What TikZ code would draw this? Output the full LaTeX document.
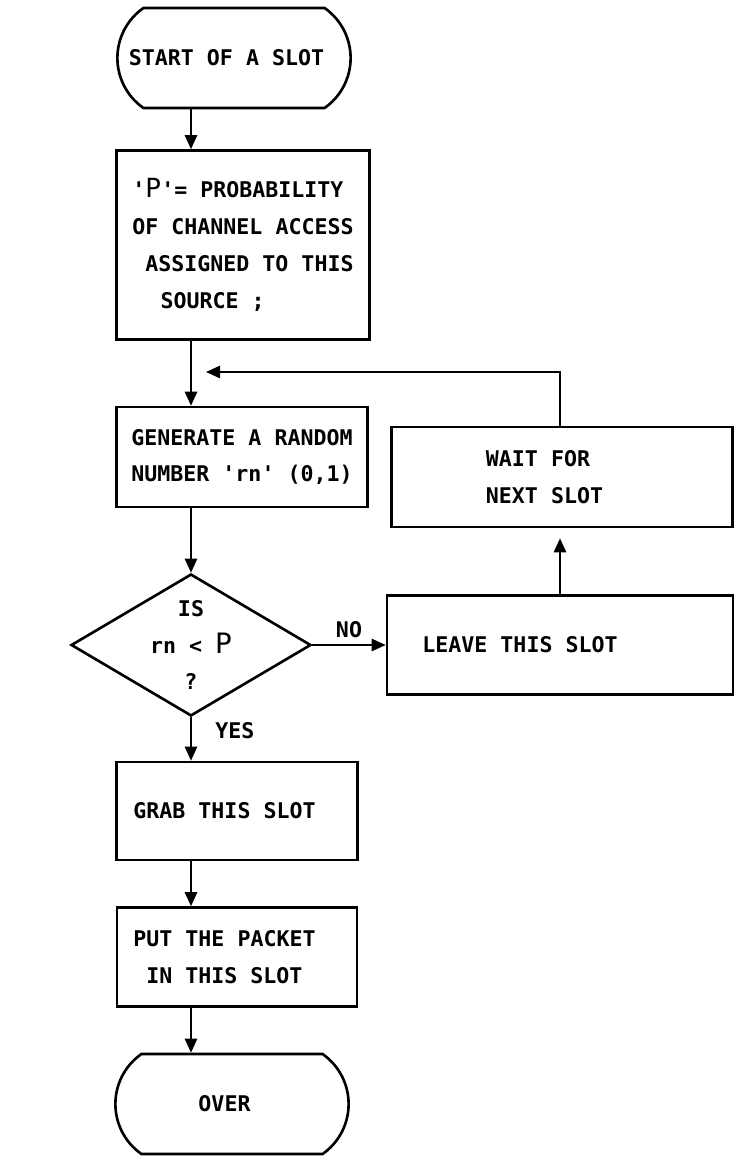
\documentclass[tikz,border=0pt]{standalone}
\usepackage{fontspec}
\newfontfamily\plotterfont{DejaVu Sans Mono}
\usetikzlibrary{shapes.geometric, shapes.misc, arrows.meta, positioning}

\begin{document}
\begin{tikzpicture}[
    x=0.02cm, y=-0.02cm,
    font=\plotterfont\bfseries\fontsize{12.3}{21}\selectfont,
    terminal/.style={rounded rectangle, rounded rectangle arc length=110, draw, line width=1.5pt, minimum width=4.9cm, minimum height=2cm},
    process/.style={rectangle, draw, line width=1.5pt, align=left, inner sep=0pt},
    decision/.style={diamond, draw, line width=1.5pt, aspect=1.7, inner sep=0pt, align=center, minimum width=4.8cm, minimum height=2.84cm},
    arrow/.style={-{Triangle[length=8pt, width=7pt]}, line width=1.1pt}
]
    \useasboundingbox (0,0) rectangle (735,1157);

    % main column
    \node[terminal] (start) at (234,58) {START OF A SLOT\hspace*{0.3cm}};
    \node[process, minimum width=5.06cm, minimum height=3.78cm] (assign) at (243,245)
        {'{\fontsize{15}{15}\mdseries P}'= PROBABILITY\\OF CHANNEL ACCESS\\\hspace*{0.6em}ASSIGNED TO THIS\\\hspace*{1.3em}SOURCE ;\hspace*{0.4cm}};
    \node[process, minimum width=5.02cm, minimum height=2cm] (gen) at (242,457)
        {GENERATE A RANDOM\\NUMBER 'rn' (0,1)};
    \node[decision] (dec) at (191,645) {IS\\rn < {\fontsize{16}{16}\mdseries P}\\?};
    \node[process, minimum width=4.82cm, minimum height=1.96cm] (grab) at (237,811) {GRAB THIS SLOT\hspace*{0.5cm}};
    \node[process, minimum width=4.8cm, minimum height=1.98cm] (put) at (237,957)
        {PUT THE PACKET\hspace*{0.5cm}\\\hspace*{0.6em}IN THIS SLOT};
    \node[terminal] (over) at (232,1104) {OVER\hspace*{0.3cm}};

    % right column
    \node[process, minimum width=6.92cm, minimum height=1.98cm] (leave) at (560,645) {LEAVE THIS SLOT\hspace*{1.6cm}};
    \node[process, minimum width=6.82cm, minimum height=2cm] (wait) at (562,477) {WAIT FOR\\NEXT SLOT\hspace*{0.7cm}};
    \coordinate (loopin) at (206,372);

    \draw[arrow] (start.south -| dec.north) -- (assign.north -| dec.north);
    \draw[arrow] (assign.south -| dec.north) -- (gen.north -| dec.north);
    \draw[arrow] (gen.south -| dec.north) -- (dec.north);
    \draw[arrow] (dec.east) -- node[above] {NO} (leave.west);
    \draw[arrow, shorten >=0.2cm] (leave.north) -- (wait.south -| leave.north);
    \draw[arrow] (wait.north -| leave.north) |- (loopin);
    \draw[arrow] (dec.south) -- node[pos=0.3, right, xshift=0.35cm] {YES} (grab.north -| dec.south);
    \draw[arrow] (grab.south -| dec.south) -- (put.north -| dec.south);
    \draw[arrow] (put.south -| dec.south) -- (over.north -| dec.south);

\end{tikzpicture}
\end{document}
